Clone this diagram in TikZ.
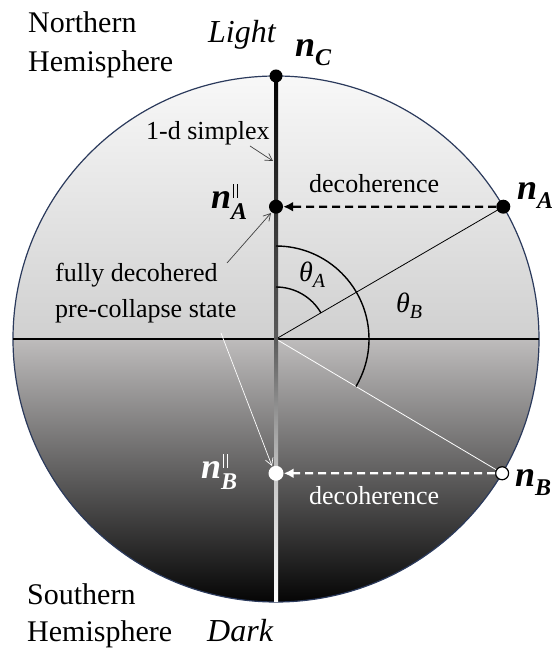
\documentclass[tikz,border=0pt]{standalone}
\usepackage{fontspec}
\setmainfont{Liberation Serif}
\usetikzlibrary{arrows.meta,calc}
\definecolor{rim}{HTML}{2B3A5C}
\definecolor{northtop}{HTML}{F8F8F8}
\definecolor{northbot}{HTML}{D0D0D0}
\definecolor{southtop}{HTML}{BEBCBC}
\definecolor{southbot}{HTML}{050505}
\definecolor{sA}{HTML}{333333}
\definecolor{sO}{HTML}{5A5A5A}
\definecolor{sB}{HTML}{C4C4C4}
\newcommand{\bigtxt}{\fontsize{30}{36}\selectfont}
\newcommand{\smalltxt}{\fontsize{26}{31}\selectfont}
\newcommand{\nlab}[1]{{\fontsize{36}{40}\selectfont\bfseries\itshape n}\raisebox{-9pt}{\fontsize{24}{28}\selectfont\bfseries\itshape #1}}
\newcommand{\nparlab}[1]{{\fontsize{36}{40}\selectfont\bfseries\itshape n}\makebox[0pt][l]{\raisebox{11pt}{\hspace{1.5pt}\rule{1.5pt}{14pt}\hspace{2.5pt}\rule{1.5pt}{14pt}}}\raisebox{-11pt}{\fontsize{24}{28}\selectfont\bfseries\itshape #1}}
\newcommand{\thlab}[1]{{\fontsize{28}{32}\selectfont\itshape θ}\raisebox{-6pt}{\fontsize{20}{24}\selectfont\itshape #1}}
\begin{document}
\begin{tikzpicture}[x=1pt,y=1pt,
  txt/.style={inner sep=0pt, anchor=base west},
  dot/.style={circle, fill=black, inner sep=0pt, minimum size=14pt},
  opendot/.style={circle, fill=white, draw=black, line width=1.2pt, inner sep=0pt, minimum size=13pt},
  wdot/.style={circle, fill=white, inner sep=0pt, minimum size=15pt},
  darrow/.style={line width=2.2pt, dash pattern=on 8pt off 5pt, -{Latex[length=10pt,width=10pt]}},
  thinarrow/.style={line width=0.7pt, -{Straight Barb[length=7pt,width=8pt,line width=0.7pt]}},
  anglearc/.style={line width=1.4pt}]
\useasboundingbox (0,0) rectangle (555,653);
\coordinate (O) at (276,314);
\coordinate (W) at ($(O)+(-263,0)$);
\coordinate (E) at ($(O)+(263,0)$);
\coordinate (pA) at ($(O)+(30.2:263)$);
\coordinate (pB) at ($(O)+(-30.7:263)$);
% sphere fill
\shade[top color=northtop,bottom color=northbot] (W) arc[start angle=180,end angle=0,radius=263] -- cycle;
\shade[top color=southtop,bottom color=southbot] (E) arc[start angle=0,end angle=-180,radius=263] -- cycle;
\draw[rim, line width=1.2pt] (O) circle[radius=263];
% equator and radii
\draw[line width=1.2pt] (W) -- (E);
\draw[line width=0.8pt] (O) -- (pA);
\draw[white, line width=0.8pt] (O) -- (pB);
% 1-d simplex (shaded thick line)
\shade[top color=black, bottom color=sA] (274,446.3) rectangle (278,577);
\shade[top color=sA, bottom color=sO] (274,314) rectangle (278,446.3);
\shade[top color=sO, bottom color=sB] (274,179.7) rectangle (278,314);
\shade[top color=sB, bottom color=white] (274,51) rectangle (278,179.7);
% angle arcs
\draw[anglearc] ($(O)+(90:52)$) arc[start angle=90,end angle=30.2,radius=52];
\draw[anglearc] ($(O)+(90:93)$) arc[start angle=90,end angle=-30.7,radius=93];
% dots
\node[dot, minimum size=13pt] (nC) at (276,577) {};
\node[dot] (nApar) at (276,446.3) {};
\node[dot] (nA) at (pA) {};
\node[opendot] (nB) at (pB) {};
\node[wdot] (nBpar) at (276,179.7) {};
% decoherence arrows
\draw[darrow] (nA) -- (nApar);
\draw[darrow, white] (nB) -- (nBpar);
% labels
\node[txt] (north1) at (28,620) {\bigtxt Northern};
\node[txt] (north2) at (28,581) {\bigtxt Hemisphere};
\node[txt] (south1) at (27,48) {\bigtxt Southern};
\node[txt] (south2) at (27,11) {\bigtxt Hemisphere};
\node[txt] (light) at (208,610) {\fontsize{32}{36}\selectfont\itshape Light};
\node[txt] (dark) at (207,11) {\fontsize{32}{36}\selectfont\itshape Dark};
\node[txt] (lnC) at (295,596) {\nlab{C}};
\node[txt] (lnA) at (517,453) {\nlab{A}};
\node[txt] (lnB) at (515,166) {\nlab{B}};
\node[txt] (lnApar) at (211,444) {\nparlab{A}};
\node[txt, text=white] (lnBpar) at (201,174) {\nparlab{B}};
\node[txt] (thA) at (299,371) {\thlab{A}};
\node[txt] (thB) at (396,340) {\thlab{B}};
\node[txt] (simplex) at (146,513) {\smalltxt 1-d simplex};
\node[txt] (decA) at (309,460) {\smalltxt decoherence};
\node[txt, text=white] (decB) at (309,148) {\smalltxt decoherence};
\node[txt] (fully1) at (55,371) {\smalltxt fully decohered};
\node[txt] (fully2) at (55,335) {\smalltxt pre-collapse state};
% pointer arrows
\coordinate (s1) at (250,507);
\coordinate (s2) at (273,492);
\coordinate (f1) at (227,390);
\coordinate (f2) at (271,440);
\coordinate (w1) at (221,320);
\coordinate (w2) at (272,187);
\draw[thinarrow, black!75] (s1) -- (s2);
\draw[thinarrow, black!75] (f1) -- (f2);
\draw[thinarrow, white] (w1) -- (w2);
\end{tikzpicture}
\end{document}
